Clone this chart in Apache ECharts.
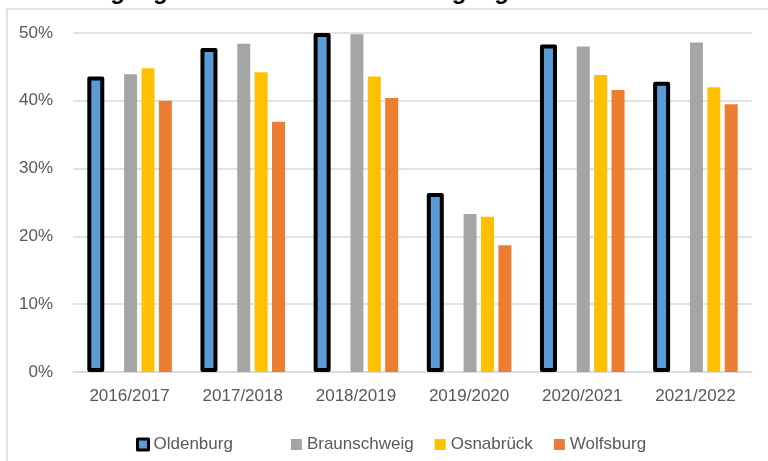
<!DOCTYPE html>
<html>
<head>
<meta charset="utf-8">
<script src="https://cdn.jsdelivr.net/npm/echarts@6/dist/echarts.min.js"></script>
<style>
  html, body { margin: 0; padding: 0; background: #fff; }
  #chart { width: 768px; height: 461px; }
</style>
</head>
<body>
<div id="chart"></div>
<script>
// Daten (Anteile in %)
const years = ['2016/2017', '2017/2018', '2018/2019', '2019/2020', '2020/2021', '2021/2022']
const oldenburg = [43.6, 47.8, 50.0, 26.4, 48.3, 42.8]
const braunschweig = [43.9, 48.4, 49.8, 23.3, 48.0, 48.6]
const osnabrueck = [44.8, 44.2, 43.6, 22.9, 43.8, 42.0]
const wolfsburg = [40.0, 36.9, 40.4, 18.7, 41.6, 39.5]
const yTicks = [0, 10, 20, 30, 40, 50]
const titleText = 'Schulabgänge mit Abitur und Schulabgänge ohne Abschluss'

const font = 'Liberation Sans, Arial, sans-serif'
const gapName = '\u200b' // leere Lücke zwischen Oldenburg und den anderen Städten

const chart = echarts.init(document.getElementById('chart'), null, { renderer: 'canvas' })

function barSeries(name, data, color, extra) {
  return Object.assign({
    name: name,
    type: 'bar',
    data: data,
    barWidth: 13,
    barGap: '33.8%',
    itemStyle: { color: color }
  }, extra || {})
}

const option = {
  backgroundColor: '#fff',
  animation: false,
  graphic: [
    {
      type: 'rect',
      shape: { x: 7, y: 9, width: 800, height: 500 },
      style: { fill: 'none', stroke: '#d9d9d9', lineWidth: 1.5 },
      silent: true
    },
    {
      // Titel ist im Original oben abgeschnitten
      type: 'text',
      x: 17,
      y: 4,
      style: {
        text: titleText,
        font: 'bold 24px ' + font,
        fill: '#000',
        verticalAlign: 'bottom'
      },
      silent: true
    }
  ],
  grid: {
    left: 73,
    right: 16,
    top: 33,
    bottom: 89
  },
  legend: {
    left: 131,
    top: 431,
    icon: 'rect',
    itemWidth: 11,
    itemHeight: 11,
    itemGap: 21,
    textStyle: { color: '#595959', fontSize: 17, fontFamily: font },
    data: [
      { name: 'Oldenburg', itemStyle: { color: '#5b9bd5', borderColor: '#000', borderWidth: 3 } },
      { name: gapName },
      { name: 'Braunschweig' },
      { name: 'Osnabrück' },
      { name: 'Wolfsburg' }
    ]
  },
  xAxis: {
    type: 'category',
    data: years,
    axisLine: { lineStyle: { color: '#d9d9d9', width: 1.5 } },
    axisTick: { show: false },
    axisLabel: { color: '#595959', fontSize: 17, fontFamily: font, margin: 16 }
  },
  yAxis: {
    type: 'value',
    min: yTicks[0],
    max: yTicks[yTicks.length - 1],
    interval: 10,
    axisLine: { show: false },
    axisTick: { show: false },
    splitLine: { lineStyle: { color: '#d9d9d9', width: 1.5 } },
    axisLabel: {
      color: '#595959',
      fontSize: 17,
      fontFamily: font,
      margin: 20,
      formatter: '{value}%'
    }
  },
  series: [
    barSeries('Oldenburg', oldenburg, '#5b9bd5', {
      barWidth: 17,
      itemStyle: { color: '#5b9bd5', borderColor: '#000', borderWidth: 4, borderJoin: 'round' },
      z: 3
    }),
    barSeries(gapName, years.map(() => '-'), 'transparent', { barWidth: 10.5 }),
    barSeries('Braunschweig', braunschweig, '#a5a5a5'),
    barSeries('Osnabrück', osnabrueck, '#ffc000'),
    barSeries('Wolfsburg', wolfsburg, '#ed7d31')
  ]
}

chart.setOption(option)
</script>
</body>
</html>
